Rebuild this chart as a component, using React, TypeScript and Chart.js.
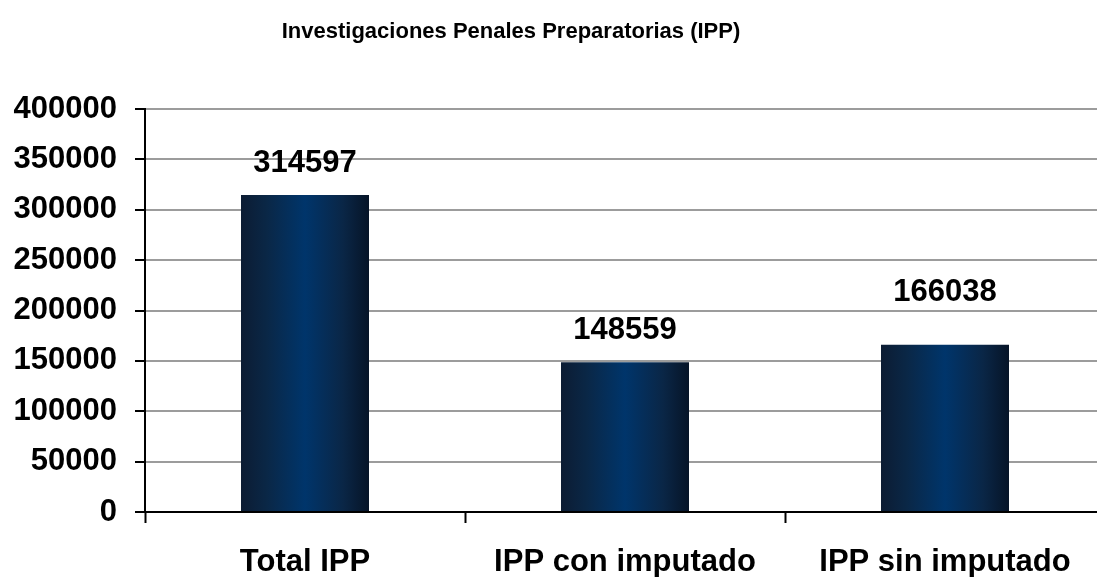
import React, { useEffect, useRef } from "react";
import { Chart, registerables } from "chart.js";

Chart.register(...registerables);

const categories = ["Total IPP", "IPP con imputado", "IPP sin imputado"];
const values = [314597, 148559, 166038];
const yTicks = [0, 50000, 100000, 150000, 200000, 250000, 300000, 350000, 400000];
const titleText = "Investigaciones Penales Preparatorias (IPP)";

const FONT = 'Arial, "Liberation Sans", sans-serif';

const titlePlugin = {
  id: "customTitle",
  afterDraw(chart: any) {
    const ctx = chart.ctx;
    ctx.save();
    ctx.font = `bold 22px ${FONT}`;
    ctx.fillStyle = "#000";
    ctx.textAlign = "center";
    ctx.textBaseline = "alphabetic";
    ctx.fillText(titleText, 511, 38);
    ctx.restore();
  },
};

const valueLabelPlugin = {
  id: "valueLabels",
  afterDatasetsDraw(chart: any, _args: any, opts: any) {
    const ctx = chart.ctx;
    const meta = chart.getDatasetMeta(0);
    const offsets: number[] = opts.offsets || [];
    ctx.save();
    ctx.font = `bold 31px ${FONT}`;
    ctx.fillStyle = "#000";
    ctx.textAlign = "center";
    ctx.textBaseline = "alphabetic";
    meta.data.forEach((bar: any, i: number) => {
      const off = offsets[i] ?? 23;
      ctx.fillText(String(values[i]), bar.x, bar.y - off);
    });
    ctx.restore();
  },
};

function barGradient(context: any) {
  const chart = context.chart;
  const area = chart.chartArea;
  const xs = chart.scales?.x;
  if (!area || !xs) return "#003366";
  const c = xs.getPixelForValue(context.dataIndex);
  const w = (xs.width / categories.length) * 0.4;
  const g = chart.ctx.createLinearGradient(c - w / 2, 0, c + w / 2, 0);
  g.addColorStop(0, "#0c1c33");
  g.addColorStop(0.2, "#0a2746");
  g.addColorStop(0.5, "#00356b");
  g.addColorStop(0.8, "#0a2646");
  g.addColorStop(1, "#061427");
  return g;
}

export default function App() {
  const canvasRef = useRef<HTMLCanvasElement | null>(null);

  useEffect(() => {
    if (!canvasRef.current) return;
    const chart = new Chart(canvasRef.current, {
      type: "bar",
      data: {
        labels: categories,
        datasets: [
          {
            data: values,
            backgroundColor: barGradient,
            borderWidth: 0,
            barPercentage: 0.4,
            categoryPercentage: 1,
          },
        ],
      },
      plugins: [titlePlugin, valueLabelPlugin],
      options: {
        animation: false,
        responsive: false,
        layout: { padding: { top: 109, left: 0, right: 5, bottom: 0 } },
        plugins: {
          legend: { display: false },
          tooltip: { enabled: false },
          title: { display: false },
          valueLabels: { offsets: [23, 23, 44] },
        } as any,
        scales: {
          x: {
            offset: true,
            grid: {
              display: true,
              drawOnChartArea: false,
              offset: true,
              tickLength: 11,
              tickColor: "#000",
              tickWidth: 2,
            },
            border: { display: true, color: "#000", width: 2 },
            ticks: {
              color: "#000",
              font: { family: FONT, size: 31, weight: "bold" },
              padding: 21,
              maxRotation: 0,
              autoSkip: false,
            },
            afterFit(scale: any) {
              scale.height = 65;
            },
          },
          y: {
            min: 0,
            max: 400000,
            afterBuildTicks(scale: any) {
              scale.ticks = yTicks.map((v) => ({ value: v }));
            },
            grid: {
              color: "#9c9c9c",
              lineWidth: 2,
              tickLength: 10,
              tickColor: "#000",
              tickWidth: 2,
            },
            border: { display: true, color: "#000", width: 2 },
            ticks: {
              color: "#000",
              font: { family: FONT, size: 31, weight: "bold" },
              padding: 18,
              callback: (v: any) => String(v),
            },
            afterFit(scale: any) {
              scale.width = 145;
            },
          },
        },
      },
    });
    return () => chart.destroy();
  }, []);

  return (
    <div
      style={{
        position: "fixed",
        left: 0,
        top: 0,
        width: 1097,
        height: 577,
        overflow: "hidden",
        background: "#fff",
      }}
    >
      <canvas ref={canvasRef} width={1110} height={577} style={{ display: "block" }} />
    </div>
  );
}
